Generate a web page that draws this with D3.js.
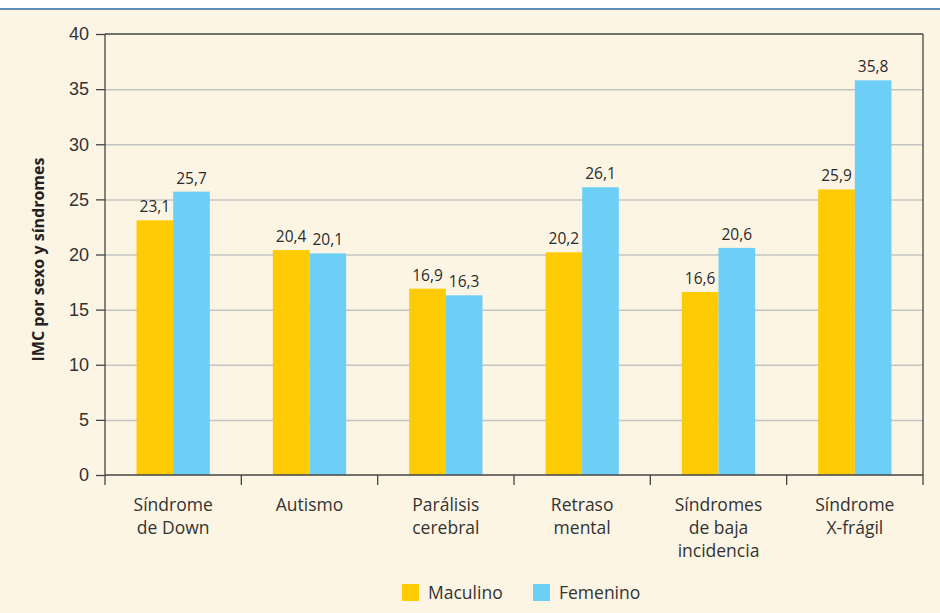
<!DOCTYPE html>
<html lang="es">
<head>
<meta charset="UTF-8">
<title>IMC por sexo y síndromes</title>
<script src="https://cdn.jsdelivr.net/npm/d3@7"></script>
<style>
  body { margin: 0; background: #fff; }
  svg { display: block; font-family: "Open Sans", "Noto Sans", sans-serif; }
  .axis text { font-size: 18px; fill: #333; }
  .axis path, .axis line { stroke: #444; stroke-width: 1.3; }
  .gridline line { stroke: #c4c4c4; stroke-width: 1.5; }
  .gridline path { display: none; }
  .bar-label { font-size: 15.5px; fill: #2b2b2b; text-anchor: middle; }
</style>
</head>
<body>
<script>
var categories = [
  ["Síndrome", "de Down"],
  ["Autismo"],
  ["Parálisis", "cerebral"],
  ["Retraso", "mental"],
  ["Síndromes", "de baja", "incidencia"],
  ["Síndrome", "X-frágil"]
];
var seriesNames = ["Maculino", "Femenino"];
var maculino = [23.1, 20.4, 16.9, 20.2, 16.6, 25.9];
var femenino = [25.7, 20.1, 16.3, 26.1, 20.6, 35.8];
var yTicks = [0, 5, 10, 15, 20, 25, 30, 35, 40];
var colors = ["#ffcb05", "#6dcff6"];

var W = 940, H = 613;
var margin = {top: 34, right: 17, bottom: 138, left: 105};
var width = W - margin.left - margin.right;
var height = H - margin.top - margin.bottom;

var svg = d3.select("body").append("svg")
  .attr("width", W)
  .attr("height", H);

// header strip + cream panel
svg.append("rect").attr("width", W).attr("height", H).attr("fill", "#fff");
svg.append("rect").attr("y", 9).attr("width", W).attr("height", H - 9).attr("fill", "#fdf5e4");
svg.append("line").attr("x1", 0).attr("x2", W).attr("y1", 9).attr("y2", 9)
  .attr("stroke", "#2d6aa3").attr("stroke-width", 1.6);

var chart = svg.append("g")
  .attr("transform", "translate(" + margin.left + "," + margin.top + ")");

var x = d3.scaleBand()
  .domain(d3.range(categories.length))
  .range([0, width]);

var xInner = d3.scaleBand()
  .domain(seriesNames)
  .range([0, x.bandwidth()])
  .paddingInner(0)
  .paddingOuter(0.86);

var y = d3.scaleLinear().domain([0, 40]).range([height, 0]);

// gridlines
chart.append("g")
  .classed("gridline", true)
  .call(d3.axisLeft(y).tickValues(yTicks.slice(1, -1)).tickSize(-width).tickFormat(""));

// frame top + right
chart.append("line").attr("x1", 0).attr("x2", width).attr("y1", 0).attr("y2", 0)
  .attr("stroke", "#444").attr("stroke-width", 1.3);
chart.append("line").attr("x1", width).attr("x2", width).attr("y1", 0).attr("y2", height + 10)
  .attr("stroke", "#444").attr("stroke-width", 1.3);

// bars
var rows = categories.map(function (c, i) {
  return {i: i, values: [
    {key: seriesNames[0], value: maculino[i]},
    {key: seriesNames[1], value: femenino[i]}
  ]};
});

var groups = chart.selectAll(".group")
  .data(rows)
  .enter().append("g")
  .attr("transform", function (d) { return "translate(" + x(d.i) + ",0)"; });

groups.selectAll("rect")
  .data(function (d) { return d.values; })
  .enter().append("rect")
  .attr("x", function (d) { return xInner(d.key); })
  .attr("y", function (d) { return y(d.value); })
  .attr("width", xInner.bandwidth())
  .attr("height", function (d) { return height - y(d.value); })
  .attr("fill", function (d, i) { return colors[i]; });

groups.selectAll(".bar-label")
  .data(function (d) { return d.values; })
  .enter().append("text")
  .classed("bar-label", true)
  .attr("x", function (d) { return xInner(d.key) + xInner.bandwidth() / 2; })
  .attr("y", function (d) { return y(d.value) - 8; })
  .text(function (d) { return d3.format(".1f")(d.value).replace(".", ","); });

// y axis
var yAxisG = chart.append("g")
  .classed("axis", true)
  .call(d3.axisLeft(y).tickValues(yTicks).tickSize(9).tickPadding(7));
yAxisG.select(".domain").remove();
chart.append("line").attr("x1", 0).attr("x2", 0).attr("y1", 0).attr("y2", height + 10)
  .attr("stroke", "#444").attr("stroke-width", 1.3);

// x axis: ticks at the category boundaries
chart.append("line").attr("x1", 0).attr("x2", width).attr("y1", height).attr("y2", height)
  .attr("stroke", "#444").attr("stroke-width", 1.3);
chart.selectAll(".xtick")
  .data(d3.range(1, categories.length))
  .enter().append("line")
  .attr("x1", function (d) { return x(d); })
  .attr("x2", function (d) { return x(d); })
  .attr("y1", height).attr("y2", height + 10)
  .attr("stroke", "#444").attr("stroke-width", 1.3);

var xLabels = chart.selectAll(".xlabel")
  .data(categories)
  .enter().append("text")
  .attr("text-anchor", "middle")
  .style("font-size", "17.5px")
  .style("fill", "#333")
  .attr("transform", function (d, i) {
    return "translate(" + (x(i) + x.bandwidth() / 2) + "," + (height + 36) + ")";
  });
xLabels.selectAll("tspan")
  .data(function (d) { return d; })
  .enter().append("tspan")
  .attr("x", 0)
  .attr("dy", function (d, i) { return i === 0 ? 0 : 23; })
  .text(function (d) { return d; });

// y axis title
svg.append("text")
  .attr("transform", "translate(44," + (margin.top + height / 2 + 5) + ") rotate(-90)")
  .attr("text-anchor", "middle")
  .style("font-size", "16px")
  .style("font-weight", "bold")
  .style("fill", "#222")
  .text("IMC por sexo y síndromes");

// legend
var legend = svg.append("g").attr("transform", "translate(402,584)");
var legendX = [0, 131];
seriesNames.forEach(function (name, i) {
  var g = legend.append("g").attr("transform", "translate(" + legendX[i] + ",0)");
  g.append("rect").attr("width", 17).attr("height", 17).attr("fill", colors[i]);
  g.append("text").attr("x", 26).attr("y", 15)
    .style("font-size", "17.5px").style("fill", "#333")
    .text(name);
});
</script>
</body>
</html>
